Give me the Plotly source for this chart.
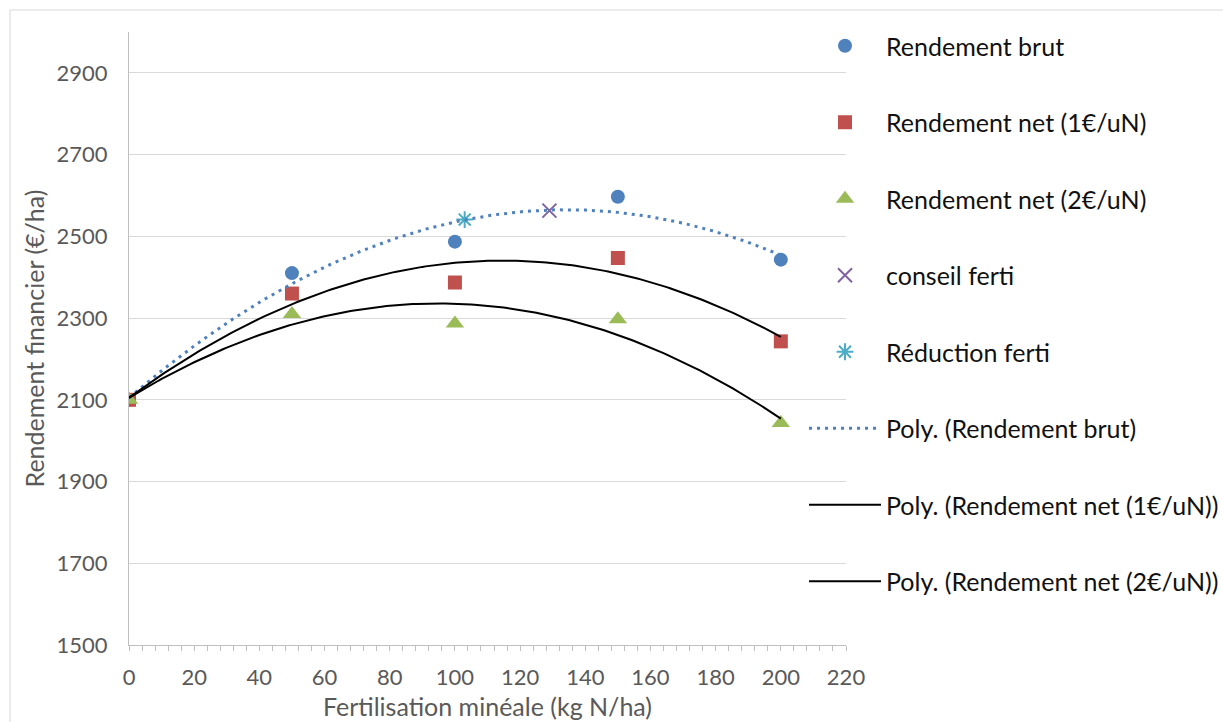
import numpy as np
import plotly.graph_objects as go

# Fertilisation levels (kg N/ha)
doses = [0, 50, 100, 150, 200]

# Financial yields (€/ha)
rendement_brut = [2100, 2410, 2487, 2597, 2443]
rendement_net_1 = [2100, 2360, 2387, 2447, 2243]
rendement_net_2 = [2100, 2310, 2287, 2297, 2043]

# Highlighted points
conseil_x = [129]
conseil_y = [2563]
reduction_x = [103]
reduction_y = [2541]

x_ticks = list(range(0, 221, 20))
y_ticks = list(range(1500, 3000, 200))

BLUE = "#4F81BD"
RED = "#C0504D"
GREEN = "#9BBB59"
PURPLE = "#8064A2"
CYAN = "#4BACC6"
FONT = "Lato"
GREY_TXT = "#595959"
GRID = "#D9D9D9"

fig = go.Figure()

fig.add_trace(go.Scatter(x=doses, y=rendement_brut, mode="markers", name="Rendement brut",
                         legendgroup="a",
                         marker=dict(symbol="circle", size=14, color=BLUE)))
fig.add_trace(go.Scatter(x=doses, y=rendement_net_1, mode="markers", name="Rendement net (1€/uN)",
                         legendgroup="b",
                         marker=dict(symbol="square", size=14, color=RED)))
fig.add_trace(go.Scatter(x=doses, y=rendement_net_2, mode="markers", name="Rendement net (2€/uN)",
                         legendgroup="c",
                         marker=dict(symbol="triangle-up", size=16, color=GREEN)))
fig.add_trace(go.Scatter(x=conseil_x, y=conseil_y, mode="markers", name="conseil ferti",
                         legendgroup="d",
                         marker=dict(symbol="x-thin-open", size=14, color=PURPLE,
                                     line=dict(color=PURPLE, width=2))))
fig.add_trace(go.Scatter(x=reduction_x, y=reduction_y, mode="markers", name="Réduction ferti",
                         legendgroup="e",
                         marker=dict(symbol="asterisk-open", size=14, color=CYAN,
                                     line=dict(color=CYAN, width=2))))

# Second-order polynomial trendlines fitted to each series
xs = np.linspace(0, 200, 201)
trend_specs = [
    (rendement_brut, "Poly. (Rendement brut)", dict(color=BLUE, width=3, dash="3px,5px"), "f"),
    (rendement_net_1, "Poly. (Rendement net (1€/uN))", dict(color="black", width=2), "g"),
    (rendement_net_2, "Poly. (Rendement net (2€/uN))", dict(color="black", width=2), "h"),
]
for values, label, line, grp in trend_specs:
    coeffs = np.polyfit(doses, values, 2)
    fig.add_trace(go.Scatter(x=xs, y=np.polyval(coeffs, xs), mode="lines", name=label,
                             legendgroup=grp, line=line))

fig.update_layout(
    width=1223, height=722,
    margin=dict(l=129, r=377, t=32, b=77, autoexpand=False),
    paper_bgcolor="white", plot_bgcolor="white",
    font=dict(family=FONT, color=GREY_TXT),
    showlegend=True,
    legend=dict(
        x=(804 - 129) / 717, y=1 + 9 / 613, xanchor="left", yanchor="top",
        bgcolor="rgba(0,0,0,0)", tracegroupgap=41, maxheight=710,
        font=dict(family=FONT, size=25, color="#111111"),
        itemwidth=72,
    ),
    xaxis=dict(
        range=[0, 220], tickvals=x_ticks, showgrid=False, zeroline=False,
        showline=True, linecolor="#BFBFBF", linewidth=1,
        ticks="", ticklabelstandoff=13, tickfont=dict(size=22, color=GREY_TXT),
        minor=dict(dtick=4, tick0=0, ticks="outside", ticklen=5, tickcolor="#BFBFBF", showgrid=False),
        title=dict(text="Fertilisation minéale (kg N/ha)", font=dict(size=25, color=GREY_TXT), standoff=9),
    ),
    yaxis=dict(
        range=[1500, 3000], tickvals=y_ticks, showgrid=True, gridcolor=GRID, gridwidth=1,
        zeroline=False, showline=True, linecolor="#BFBFBF", linewidth=1,
        ticks="", ticklabelstandoff=16, tickfont=dict(size=22, color=GREY_TXT),
        title=dict(text="Rendement financier (€/ha)", font=dict(size=25, color=GREY_TXT), standoff=4),
    ),
    shapes=[dict(type="rect", xref="paper", yref="paper",
                 x0=(10 - 129) / 717, x1=(1240 - 129) / 717,
                 y0=(645 - 740) / 613, y1=1 + 22 / 613,
                 line=dict(color=GRID, width=1), layer="below")],
)

fig.write_html("out.html")
